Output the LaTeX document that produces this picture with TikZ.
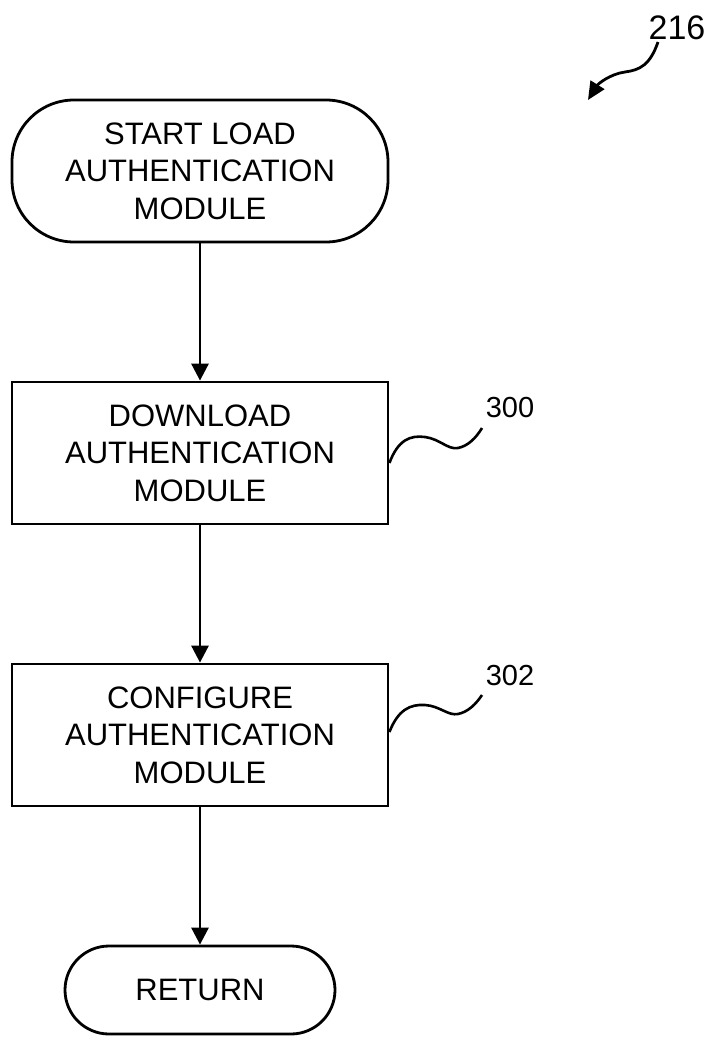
\documentclass[tikz,border=0pt]{standalone}
\usepackage{fontspec}
\setmainfont{Liberation Sans}
\usetikzlibrary{arrows.meta,calc}
\begin{document}
\begin{tikzpicture}[x=1pt,y=-1pt,
  every node/.style={inner sep=0pt},
  lbl/.style={font=\fontsize{31}{37.5}\selectfont, align=center},
  term/.style={lbl, draw, line width=2.8pt, rounded corners=62pt},
  proc/.style={lbl, draw, line width=2.8pt, minimum width=376pt, minimum height=142pt},
  flow/.style={line width=2.8pt, -{Triangle[length=17pt,width=17pt]}},
  lead/.style={line width=2.6pt},
  refnum/.style={font=\fontsize{29}{34}\selectfont}]
\useasboundingbox (0,0) rectangle (709,1044);
\node[term, minimum width=376pt, minimum height=142pt] (s) at (200,171) {START LOAD\\AUTHENTICATION\\MODULE};
\node[proc] (b1) at (200,453) {DOWNLOAD\\AUTHENTICATION\\MODULE};
\node[proc] (b2) at (200,735) {CONFIGURE\\AUTHENTICATION\\MODULE};
\node[term, rounded corners=44pt, minimum width=270pt, minimum height=88pt] (r) at (200,990) {RETURN};
\draw[flow] (s) -- (b1);
\draw[flow] (b1) -- (b2);
\draw[flow] (b2) -- (r);
\node[refnum] (n300) at (510,408) {300};
\node[refnum] (n302) at (510,676) {302};
\node[font=\fontsize{34}{40}\selectfont] (n216) at (677,28) {216};
\coordinate (a1) at ($(b1.east)+(0,10)$);
\coordinate (e1) at (482,428);
\draw[lead] (a1) .. controls (398,440) and (410,435) .. (425,437)
  .. controls (440,439) and (448,450) .. (458,448)
  .. controls (468,446) and (476,438) .. (e1);
\coordinate (a2) at ($(b2.east)+(0,-3)$);
\coordinate (e2) at (482,695);
\draw[lead] (a2) .. controls (398,710) and (410,704) .. (425,705)
  .. controls (440,706) and (448,716) .. (458,714)
  .. controls (468,712) and (476,704) .. (e2);
\coordinate (t0) at (658,42);
\coordinate (t1) at (588,100);
\draw[line width=2.8pt, -{Triangle[length=18pt,width=16pt]}] (t0) .. controls (650,65) and (640,70) .. (625,72) .. controls (610,74) and (598,84) .. (t1);
\end{tikzpicture}
\end{document}
